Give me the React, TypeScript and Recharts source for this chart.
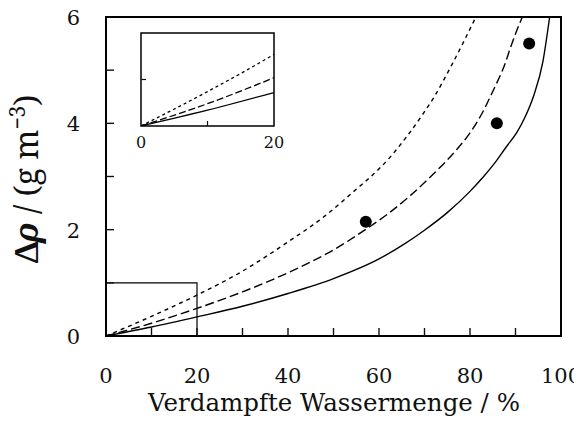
import React from "react";
import {
  ComposedChart,
  Line,
  Scatter,
  XAxis,
  YAxis,
  ReferenceArea,
} from "recharts";

// curves (x = evaporated water %, y = delta rho)
const solidCurve = [
  { x: 0, y: 0 }, { x: 10, y: 0.17 }, { x: 20, y: 0.36 }, { x: 30, y: 0.56 },
  { x: 40, y: 0.8 }, { x: 50, y: 1.08 }, { x: 60, y: 1.45 }, { x: 65, y: 1.7 },
  { x: 70, y: 1.99 }, { x: 75, y: 2.32 }, { x: 80, y: 2.72 }, { x: 83, y: 3.0 },
  { x: 85.5, y: 3.26 }, { x: 88, y: 3.56 }, { x: 90.3, y: 3.83 }, { x: 92, y: 4.1 },
  { x: 94, y: 4.52 }, { x: 96, y: 5.15 }, { x: 97.5, y: 6.0 },
];

const dashedCurve = [
  { x: 0, y: 0 }, { x: 10, y: 0.24 }, { x: 20, y: 0.52 }, { x: 30, y: 0.83 },
  { x: 40, y: 1.19 }, { x: 50, y: 1.62 }, { x: 57, y: 2.0 }, { x: 62, y: 2.3 },
  { x: 67, y: 2.65 }, { x: 72, y: 3.05 }, { x: 77, y: 3.5 }, { x: 80, y: 3.82 },
  { x: 82.6, y: 4.18 }, { x: 85, y: 4.6 }, { x: 87.7, y: 5.12 }, { x: 89, y: 5.45 },
  { x: 90.3, y: 5.75 }, { x: 91.5, y: 6.0 },
];

const dottedCurve = [
  { x: 0, y: 0 }, { x: 10, y: 0.37 }, { x: 20, y: 0.77 }, { x: 30, y: 1.22 },
  { x: 40, y: 1.77 }, { x: 48, y: 2.25 }, { x: 55, y: 2.76 }, { x: 59, y: 3.06 },
  { x: 62.4, y: 3.36 }, { x: 66, y: 3.74 }, { x: 69.7, y: 4.18 }, { x: 72, y: 4.48 },
  { x: 76, y: 5.1 }, { x: 81.3, y: 6.0 },
];

const measured = [
  { x: 57.1, y: 2.15 },
  { x: 85.9, y: 4.0 },
  { x: 93, y: 5.5 },
];

const xTicks = [0, 10, 20, 30, 40, 50, 60, 70, 80, 90, 100];
const xTickLabels = [0, 20, 40, 60, 80, 100];
const yTicks = [0, 1, 2, 3, 4, 5, 6];
const yTickLabels = [0, 2, 4, 6];
const insetXTicks = [0, 10, 20];
const insetXTickLabels = [0, 20];
const insetYTicks = [0, 0.5, 1];

const SERIF = "'DejaVu Serif'";
const YT_FONT = "'Noto Serif', 'DejaVu Serif'";
const INK = "#111";

function MainXTick({ x, y, payload }: any) {
  const v = payload.value;
  return (
    <g>
      {v > 0 && v < 100 && (
        <line x1={x} x2={x} y1={y} y2={y - 8} stroke={INK} strokeWidth={1.4} />
      )}
      {xTickLabels.includes(v) && (
        <text x={x} y={y + 47} textAnchor="middle" fill={INK}
          style={{ fontFamily: SERIF, fontSize: 21 }}>
          {v}
        </text>
      )}
    </g>
  );
}

function MainYTick({ x, y, payload }: any) {
  const v = payload.value;
  return (
    <g>
      {v > 0 && v < 6 && (
        <line x1={x} x2={x + 8} y1={y} y2={y} stroke={INK} strokeWidth={1.4} />
      )}
      {yTickLabels.includes(v) && (
        <text x={x - 26} y={y + 8} textAnchor="end" fill={INK}
          style={{ fontFamily: SERIF, fontSize: 21 }}>
          {v}
        </text>
      )}
    </g>
  );
}

function InsetXTick({ x, y, payload }: any) {
  const v = payload.value;
  return (
    <g>
      {v > 0 && v < 20 && (
        <line x1={x} x2={x} y1={y} y2={y - 5} stroke={INK} strokeWidth={1.2} />
      )}
      {insetXTickLabels.includes(v) && (
        <text x={x} y={y + 22} textAnchor="middle" fill={INK}
          style={{ fontFamily: SERIF, fontSize: 16 }}>
          {v}
        </text>
      )}
    </g>
  );
}

function InsetYTick({ x, y, payload }: any) {
  const v = payload.value;
  if (v <= 0 || v >= 1) return <g />;
  return <line x1={x} x2={x + 5} y1={y} y2={y} stroke={INK} strokeWidth={1.2} />;
}

function XTitle() {
  return (
    <text x={334} y={411} textAnchor="middle" fill={INK}
      style={{ fontFamily: SERIF, fontSize: 24.5 }}>
      Verdampfte Wassermenge / %
    </text>
  );
}

function YTitle() {
  return (
    <text
      x={38}
      y={179}
      transform="rotate(-90, 38, 179)"
      textAnchor="middle"
      fill={INK}
      style={{ fontFamily: YT_FONT, fontSize: 32 }}
    >
      <tspan fontWeight="bold">Δ</tspan>
      <tspan fontWeight="bold" fontStyle="italic">ρ</tspan>
      <tspan> / (g m</tspan>
      <tspan dy={-13} style={{ fontSize: 21 }}>−3</tspan>
      <tspan dy={13}>)</tspan>
    </text>
  );
}

const dot = (props: any) => <circle cx={props.cx} cy={props.cy} r={6} fill="#000" />;

export default function App() {
  return (
    <div style={{ position: "relative", width: 582, height: 437, margin: -8 }}>
      <ComposedChart width={582} height={437} margin={{ top: 17, right: 21, left: 0, bottom: 0 }}>
        <XAxis
          type="number"
          dataKey="x"
          domain={[0, 100]}
          ticks={xTicks}
          interval={0}
          height={101}
          axisLine={false}
          tickLine={false}
          tickSize={0}
          tickMargin={0}
          tick={<MainXTick />}
          label={<XTitle />}
        />
        <YAxis
          type="number"
          dataKey="y"
          domain={[0, 6]}
          ticks={yTicks}
          interval={0}
          width={106}
          axisLine={false}
          tickLine={false}
          tickSize={0}
          tickMargin={0}
          tick={<MainYTick />}
          label={<YTitle />}
        />
        <ReferenceArea x1={0} x2={100} y1={0} y2={6} fill="none" stroke="#000" strokeWidth={2} />
        <ReferenceArea x1={0} x2={20} y1={0} y2={1} fill="none" stroke="#000" strokeWidth={1.2} />
        <Line data={dottedCurve} dataKey="y" type="monotone" stroke="#000" strokeWidth={1.4}
          strokeDasharray="4 4" dot={false} activeDot={false} isAnimationActive={false} />
        <Line data={dashedCurve} dataKey="y" type="monotone" stroke="#000" strokeWidth={1.4}
          strokeDasharray="9 4" dot={false} activeDot={false} isAnimationActive={false} />
        <Line data={solidCurve} dataKey="y" type="monotone" stroke="#000" strokeWidth={1.4}
          dot={false} activeDot={false} isAnimationActive={false} />
        <Scatter data={measured} dataKey="y" shape={dot} isAnimationActive={false} />
      </ComposedChart>

      <div style={{ position: "absolute", left: 131, top: 28 }}>
        <ComposedChart width={158} height={130} margin={{ top: 5, right: 15, left: 0, bottom: 0 }}>
          <XAxis
            type="number"
            dataKey="x"
            domain={[0, 20]}
            allowDataOverflow
            ticks={insetXTicks}
            interval={0}
            height={32}
            axisLine={false}
            tickLine={false}
            tickSize={0}
            tickMargin={0}
            tick={<InsetXTick />}
          />
          <YAxis
            type="number"
            dataKey="y"
            domain={[0, 1]}
            allowDataOverflow
            ticks={insetYTicks}
            interval={0}
            width={10}
            axisLine={false}
            tickLine={false}
            tickSize={0}
            tickMargin={0}
            tick={<InsetYTick />}
          />
          <ReferenceArea x1={0} x2={20} y1={0} y2={1} fill="none" stroke="#000" strokeWidth={1.5} />
          <Line data={dottedCurve} dataKey="y" type="monotone" stroke="#000" strokeWidth={1.3}
            strokeDasharray="3 3" dot={false} activeDot={false} isAnimationActive={false} />
          <Line data={dashedCurve} dataKey="y" type="monotone" stroke="#000" strokeWidth={1.3}
            strokeDasharray="7 3" dot={false} activeDot={false} isAnimationActive={false} />
          <Line data={solidCurve} dataKey="y" type="monotone" stroke="#000" strokeWidth={1.3}
            dot={false} activeDot={false} isAnimationActive={false} />
        </ComposedChart>
      </div>
    </div>
  );
}
